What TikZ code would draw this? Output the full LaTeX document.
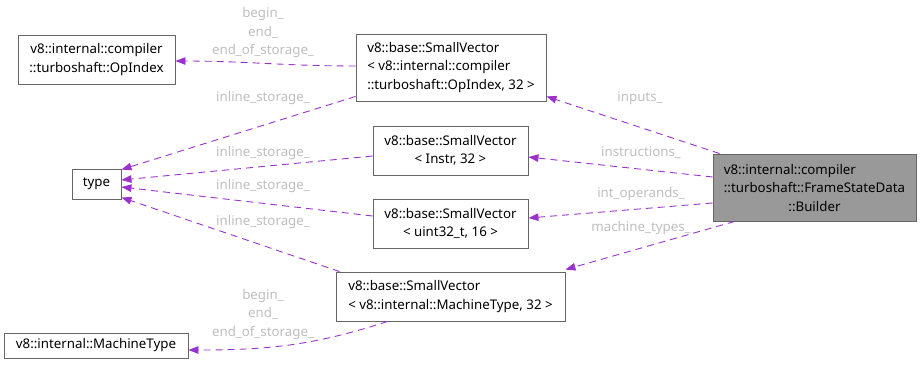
\documentclass[tikz,border=0pt]{standalone}
\usepackage{fontspec}
\setmainfont{Noto Sans}
\usetikzlibrary{arrows.meta}
\definecolor{edgecol}{HTML}{9A32CD}
\definecolor{labcol}{HTML}{BEBEBE}
\definecolor{boxline}{HTML}{666666}
\definecolor{focusfill}{HTML}{999999}
\begin{document}
\begin{tikzpicture}[x=1pt,y=-1pt,
  every node/.style={font=\fontsize{13.3}{18.5}\selectfont, inner sep=0pt},
  cls/.style={draw=boxline, line width=0.9pt, fill=white, rectangle, align=center},
  focus/.style={cls, fill=focusfill},
  lab/.style={text=labcol, align=center},
  rel/.style={draw=edgecol, line width=0.9pt, dash pattern=on 7pt off 5pt,
    -{Triangle[length=10pt,width=7.5pt,fill=edgecol]}}
]
\useasboundingbox (0,0) rectangle (923,365);

% classes
\node[cls, minimum width=157pt, minimum height=49pt] (opidx) at (96.5,59.5)
  {v8::internal::compiler\\::turboshaft::OpIndex};
\node[cls, minimum width=49pt, minimum height=30pt] (type) at (96.5,184) {type};
\node[cls, minimum width=190pt, minimum height=67pt, align=left] (svop) at (451,67.5)
  {v8::base::SmallVector\\< v8::internal::compiler\\::turboshaft::OpIndex, 32 >};
\node[cls, minimum width=155pt, minimum height=49pt] (svinstr) at (450.5,150.5)
  {v8::base::SmallVector\\< Instr, 32 >};
\node[cls, minimum width=155pt, minimum height=49pt] (svu32) at (450.5,223.5)
  {v8::base::SmallVector\\< uint32\_t, 16 >};
\node[cls, minimum width=229pt, minimum height=49pt, align=left] (svmt) at (450.5,296.5)
  {v8::base::SmallVector\\< v8::internal::MachineType, 32 >};
\node[cls, minimum width=184pt, minimum height=25pt] (mt) at (96,345.5)
  {v8::internal::MachineType};
\node[focus, minimum width=203pt, minimum height=67pt] (builder) at (814.5,187.5)
  {\rlap{v8::internal::compiler}\phantom{::turboshaft::FrameStateData}\\
   ::turboshaft::FrameStateData\\::Builder};

% member relations
\draw[rel] ([yshift=1.5pt]svop.west) to[out=180,in=0] ([yshift=-1.5pt]opidx.east);
\draw[rel] ([yshift=5pt]svop.south west) -- ([yshift=-1pt]type.north east);
\draw[rel] ([yshift=-5.5pt]svinstr.west) -- ([yshift=4pt]type.east);
\draw[rel] ([yshift=7.5pt]svu32.west) -- ([yshift=-3pt]type.east);
\draw[rel] ([xshift=4pt]svmt.north west) -- ([yshift=2pt]type.south east);
\draw[rel] ([xshift=52pt]svmt.south west) to[out=198,in=0] ([yshift=-4.5pt]mt.east);
\draw[rel] ([xshift=7pt]builder.north west) -- ([yshift=5pt]svop.south east);
\draw[rel] ([yshift=10.5pt]builder.west) -- ([yshift=-6.5pt]svinstr.east);
\draw[rel] ([yshift=-15.5pt]builder.west) -- ([yshift=5.5pt]svu32.east);
\draw[rel] ([xshift=22pt]builder.south west) -- ([yshift=2pt]svmt.north east);

% member names
\node[lab] (l1) at (263,33) {begin\_\\end\_\\end\_of\_storage\_};
\node[lab] (l2) at (263,98) {inline\_storage\_};
\node[lab] (l3) at (263,153) {inline\_storage\_};
\node[lab] (l4) at (263,186) {inline\_storage\_};
\node[lab] (l5) at (263,222) {inline\_storage\_};
\node[lab] (l6) at (263,314.5) {begin\_\\end\_\\end\_of\_storage\_};
\node[lab] (l7) at (640,98) {inputs\_};
\node[lab] (l8) at (641,153) {instructions\_};
\node[lab] (l9) at (641,194) {int\_operands\_};
\node[lab] (l10) at (641,228) {machine\_types\_};
\end{tikzpicture}
\end{document}
